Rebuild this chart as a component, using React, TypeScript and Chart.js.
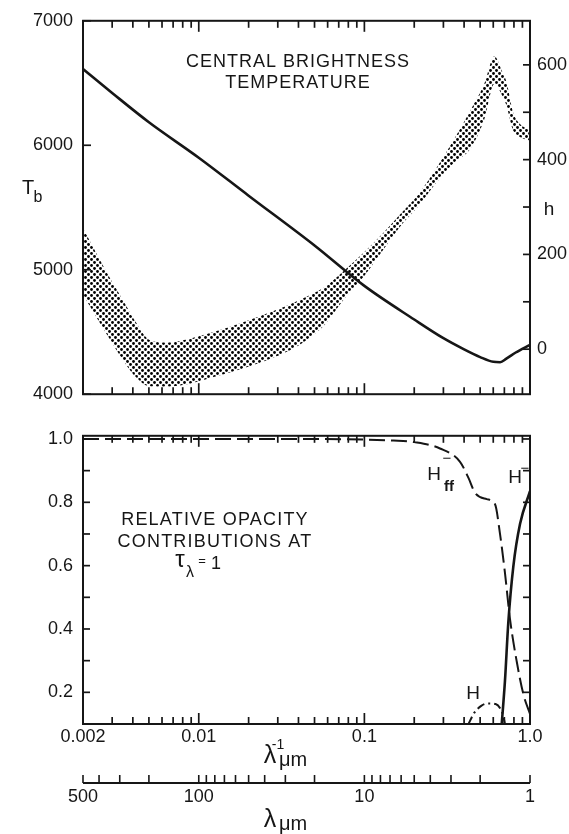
import React, { useEffect, useRef } from 'react';
import { Chart, registerables } from 'chart.js';
Chart.register(...registerables);

// ---------- Top panel data ----------
const tbX = [0.002, 0.003, 0.005, 0.01, 0.02, 0.05, 0.1, 0.2, 0.3, 0.4, 0.5, 0.6, 0.66, 0.72, 0.82, 1.0];
const tbY = [6612, 6420, 6185, 5900, 5595, 5195, 4870, 4600, 4450, 4360, 4298, 4260, 4257, 4285, 4335, 4397];

const bandX = [0.002, 0.0028, 0.0036, 0.0042, 0.005, 0.0065, 0.0088, 0.012, 0.018, 0.028, 0.04, 0.057, 0.075, 0.1, 0.13, 0.17, 0.21, 0.27, 0.34, 0.44, 0.53, 0.61, 0.68, 0.72, 0.79, 0.87, 1.0];
const bandUpper = [255, 160, 95, 55, 20, 14, 22, 35, 55, 80, 103, 130, 165, 205, 245, 290, 325, 380, 437, 506, 560, 618, 585, 565, 500, 475, 462];
const bandLower = [115, 30, -30, -60, -78, -79, -73, -60, -42, -18, 8, 50, 105, 155, 210, 265, 300, 350, 390, 425, 485, 560, 535, 515, 462, 448, 440];

const tbTickValues = [4000, 5000, 6000, 7000];
const hTickValues = [0, 200, 400, 600];
const hMinorTicks = [0, 100, 200, 300, 400, 500, 600];

// ---------- Bottom panel data ----------
const hffX = [0.002, 0.01, 0.05, 0.1, 0.15, 0.2, 0.286, 0.378, 0.425, 0.466, 0.548, 0.615, 0.659, 0.706, 0.757, 0.831, 0.912, 1.0];
const hffY = [1.0, 1.0, 1.0, 0.998, 0.995, 0.99, 0.97, 0.928, 0.877, 0.83, 0.81, 0.794, 0.7, 0.577, 0.432, 0.298, 0.194, 0.132];

const hmX = [0.675, 0.706, 0.74, 0.793, 0.871, 1.0];
const hmY = [0.1, 0.236, 0.422, 0.597, 0.732, 0.835];

const hX = [0.425, 0.46, 0.51, 0.56, 0.62, 0.66, 0.69, 0.706];
const hY = [0.1, 0.135, 0.158, 0.165, 0.163, 0.15, 0.125, 0.1];

const xTickValues = [0.002, 0.01, 0.1, 1];
const xTickLabels = ['0.002', '0.01', '0.1', '1.0'];
const lamTickValues = [500, 100, 10, 1];
const lamTickLabels = ['500', '100', '10', '1'];
const opTickValues = [0.2, 0.4, 0.6, 0.8, 1.0];
const opMinorTicks = [0.2, 0.3, 0.4, 0.5, 0.6, 0.7, 0.8, 0.9, 1.0];

const INK = '#161616';
const FONT = '"Liberation Sans", Arial, sans-serif';

const xMinorTicks: number[] = [];
for (const d of [0.001, 0.01, 0.1]) {
  for (let m = 1; m <= 9; m++) {
    const v = +(m * d).toPrecision(3);
    if (v >= 0.002 && v <= 1) xMinorTicks.push(v);
  }
}
xMinorTicks.push(1);
const lamMinorTicks: number[] = [];
for (const d of [1, 10, 100]) {
  for (let m = 1; m <= 9; m++) {
    const v = m * d;
    if (v <= 500) lamMinorTicks.push(v);
  }
}
const isMajor = (v: number) => Math.abs(Math.log10(v) - Math.round(Math.log10(v))) < 1e-6;

function line(ctx: CanvasRenderingContext2D, x1: number, y1: number, x2: number, y2: number) {
  ctx.beginPath();
  ctx.moveTo(x1, y1);
  ctx.lineTo(x2, y2);
  ctx.stroke();
}

function txt(ctx: CanvasRenderingContext2D, s: string, x: number, y: number, size: number, align: CanvasTextAlign = 'center', spacing = 0, baseline: CanvasTextBaseline = 'middle', weight = 'normal') {
  ctx.font = `${weight} ${size}px ${FONT}`;
  (ctx as any).letterSpacing = spacing + 'px';
  ctx.textAlign = align;
  ctx.textBaseline = baseline;
  ctx.fillStyle = INK;
  ctx.fillText(s, x, y);
  (ctx as any).letterSpacing = '0px';
}

function frameAndXTicks(chart: any) {
  const { ctx, chartArea: a, scales } = chart;
  ctx.strokeStyle = INK;
  ctx.lineWidth = 2;
  ctx.strokeRect(a.left, a.top, a.right - a.left, a.bottom - a.top);
  ctx.lineWidth = 1.7;
  for (const v of xMinorTicks) {
    const px = scales.x.getPixelForValue(v);
    const len = isMajor(v) ? 11 : 7;
    line(ctx, px, a.top, px, a.top + len);
    line(ctx, px, a.bottom, px, a.bottom - len);
  }
}

const topDecor = {
  id: 'topDecor',
  afterDraw(chart: any) {
    const { ctx, chartArea: a, scales } = chart;
    ctx.save();
    frameAndXTicks(chart);
    for (const v of tbTickValues) {
      const py = scales.y.getPixelForValue(v);
      line(ctx, a.left, py, a.left + 8, py);
    }
    for (const v of hMinorTicks) {
      const py = scales.y2.getPixelForValue(v);
      line(ctx, a.right, py, a.right - 7, py);
    }
    txt(ctx, 'CENTRAL BRIGHTNESS', 298, 62, 18, 'center', 1);
    txt(ctx, 'TEMPERATURE', 298, 83, 18, 'center', 1);
    txt(ctx, 'T', 28, 188, 20);
    txt(ctx, 'b', 38, 198, 16);
    txt(ctx, 'h', 549, 210, 19);
    ctx.restore();
  },
};

const botDecor = {
  id: 'botDecor',
  afterDraw(chart: any) {
    const { ctx, chartArea: a, scales } = chart;
    ctx.save();
    frameAndXTicks(chart);
    for (const v of opMinorTicks) {
      const py = scales.y.getPixelForValue(v);
      line(ctx, a.left, py, a.left + 7, py);
      line(ctx, a.right, py, a.right - 7, py);
    }
    // wavelength axis
    const s2 = scales.x2;
    const ly = s2.top;
    ctx.lineWidth = 1.8;
    line(ctx, s2.getPixelForValue(500), ly, s2.getPixelForValue(1), ly);
    ctx.lineWidth = 1.6;
    for (const v of lamMinorTicks) {
      const px = s2.getPixelForValue(v);
      line(ctx, px, ly, px, ly - 8);
    }
    // annotations
    txt(ctx, 'RELATIVE OPACITY', 215, 105, 18, 'center', 1.2);
    txt(ctx, 'CONTRIBUTIONS AT', 215, 127, 18, 'center', 1.2);
    txt(ctx, 'τ', 180, 145, 24);
    txt(ctx, 'λ', 190, 158, 16);
    txt(ctx, '=', 202, 146, 13);
    txt(ctx, '1', 216, 149, 18);
    txt(ctx, 'H', 434, 60, 19);
    txt(ctx, 'ff', 449, 72, 15, 'center', 0, 'middle', 'bold');
    txt(ctx, '−', 447, 44, 15);
    txt(ctx, 'H', 515, 63, 19);
    txt(ctx, '−', 525, 54, 15);
    txt(ctx, 'H', 473, 279, 19);
    // axis titles
    txt(ctx, 'λ', 270, 348, 25, 'center', 0, 'alphabetic');
    txt(ctx, '-1', 278, 334, 14, 'center', 0, 'alphabetic');
    txt(ctx, 'μm', 279, 351, 20, 'left', 0, 'alphabetic');
    txt(ctx, 'λ', 270, 412, 25, 'center', 0, 'alphabetic');
    txt(ctx, 'μm', 279, 415, 20, 'left', 0, 'alphabetic');
    ctx.restore();
  },
};

function makeDots(): CanvasPattern {
  const c = document.createElement('canvas');
  c.width = 6;
  c.height = 6;
  const g = c.getContext('2d')!;
  g.fillStyle = '#000';
  for (const [x, y] of [[1.5, 1.5], [4.5, 4.5]]) {
    g.beginPath();
    g.arc(x, y, 1.4, 0, Math.PI * 2);
    g.fill();
  }
  return g.createPattern(c, 'repeat')!;
}

const tickFont = { family: FONT, size: 18 };
const noGrid = { display: false, drawTicks: false };
const noBorder = { display: false };

export default function App() {
  const topRef = useRef<HTMLCanvasElement>(null);
  const botRef = useRef<HTMLCanvasElement>(null);

  useEffect(() => {
    const pattern = makeDots();
    const common: any = {
      responsive: false,
      maintainAspectRatio: false,
      animation: false,
      devicePixelRatio: 1,
      events: [],
      plugins: { legend: { display: false }, tooltip: { enabled: false } },
    };
    const lineDs = (data: any[], extra: any) => ({
      data,
      pointRadius: 0,
      borderColor: INK,
      cubicInterpolationMode: 'monotone',
      fill: false,
      ...extra,
    });

    const top = new Chart(topRef.current!, {
      type: 'line',
      data: {
        datasets: [
          lineDs(tbX.map((x, i) => ({ x, y: tbY[i] })), { label: 'Tb', yAxisID: 'y', borderWidth: 2.6 }),
          lineDs(bandX.map((x, i) => ({ x, y: bandLower[i] })), { label: 'h lower', yAxisID: 'y2', borderWidth: 0, borderColor: 'rgba(0,0,0,0)' }),
          lineDs(bandX.map((x, i) => ({ x, y: bandUpper[i] })), { label: 'h upper', yAxisID: 'y2', borderWidth: 0, borderColor: 'rgba(0,0,0,0)', fill: '-1', backgroundColor: pattern }),
        ],
      },
      options: {
        ...common,
        layout: { padding: { top: 15, left: 0, right: 0, bottom: 0 }, autoPadding: false },
        scales: {
          x: {
            type: 'logarithmic', min: 0.002, max: 1, position: 'bottom',
            grid: noGrid, border: noBorder, ticks: { display: false },
            afterFit: (s: any) => { s.height = 12; },
          },
          y: {
            type: 'linear', min: 4000, max: 7000, position: 'left',
            grid: noGrid, border: noBorder,
            afterBuildTicks: (s: any) => { s.ticks = tbTickValues.map((v) => ({ value: v })); },
            ticks: { font: tickFont, color: INK, padding: 10, callback: (v: any) => String(v) },
            afterFit: (s: any) => { s.width = 83; },
          },
          y2: {
            type: 'linear', min: -95, max: 693, position: 'right',
            grid: noGrid, border: noBorder,
            afterBuildTicks: (s: any) => { s.ticks = hTickValues.map((v) => ({ value: v })); },
            ticks: { font: tickFont, color: INK, padding: 7, callback: (v: any) => String(v) },
            afterFit: (s: any) => { s.width = 39; },
          },
        },
      },
      plugins: [topDecor],
    } as any);

    const bot = new Chart(botRef.current!, {
      type: 'line',
      data: {
        datasets: [
          lineDs(hmX.map((x, i) => ({ x, y: hmY[i] })), { label: 'H-', borderWidth: 2.6 }),
          lineDs(hffX.map((x, i) => ({ x, y: hffY[i] })), { label: 'Hff-', borderWidth: 2, borderDash: [16, 6] }),
          lineDs(hX.map((x, i) => ({ x, y: hY[i] })), { label: 'H', borderWidth: 2, borderDash: [8, 4, 2, 4] }),
        ],
      },
      options: {
        ...common,
        layout: { padding: { top: 15, left: 0, right: 39, bottom: 0 }, autoPadding: false },
        scales: {
          x: {
            type: 'logarithmic', min: 0.002, max: 1, position: 'bottom', weight: 0,
            grid: noGrid, border: noBorder,
            afterBuildTicks: (s: any) => { s.ticks = xTickValues.map((v) => ({ value: v })); },
            ticks: { font: tickFont, color: INK, padding: 2, autoSkip: false, maxRotation: 0, callback: (_v: any, i: number) => xTickLabels[i] },
            afterFit: (s: any) => { s.height = 59; },
          },
          x2: {
            type: 'logarithmic', min: 1, max: 500, reverse: true, position: 'bottom', weight: 1,
            grid: noGrid, border: noBorder,
            afterBuildTicks: (s: any) => { s.ticks = lamTickValues.map((v) => ({ value: v })); },
            ticks: { font: tickFont, color: INK, padding: 3, autoSkip: false, maxRotation: 0, callback: (_v: any, i: number) => lamTickLabels[i] },
            afterFit: (s: any) => { s.height = 51; },
          },
          y: {
            type: 'linear', min: 0.1, max: 1.01, position: 'left',
            grid: noGrid, border: noBorder,
            afterBuildTicks: (s: any) => { s.ticks = opTickValues.map((v) => ({ value: v })); },
            ticks: { font: tickFont, color: INK, padding: 10, callback: (v: any) => Number(v).toFixed(1) },
            afterFit: (s: any) => { s.width = 83; },
          },
        },
      },
      plugins: [botDecor],
    } as any);

    return () => {
      top.destroy();
      bot.destroy();
    };
  }, []);

  return (
    <div style={{ position: 'absolute', left: 0, top: 0, width: 569, height: 834, background: '#fff' }}>
      <canvas ref={topRef} width={569} height={415} style={{ position: 'absolute', left: 0, top: 0, width: 569, height: 415 }} />
      <canvas ref={botRef} width={569} height={419} style={{ position: 'absolute', left: 0, top: 415, width: 569, height: 419 }} />
    </div>
  );
}
